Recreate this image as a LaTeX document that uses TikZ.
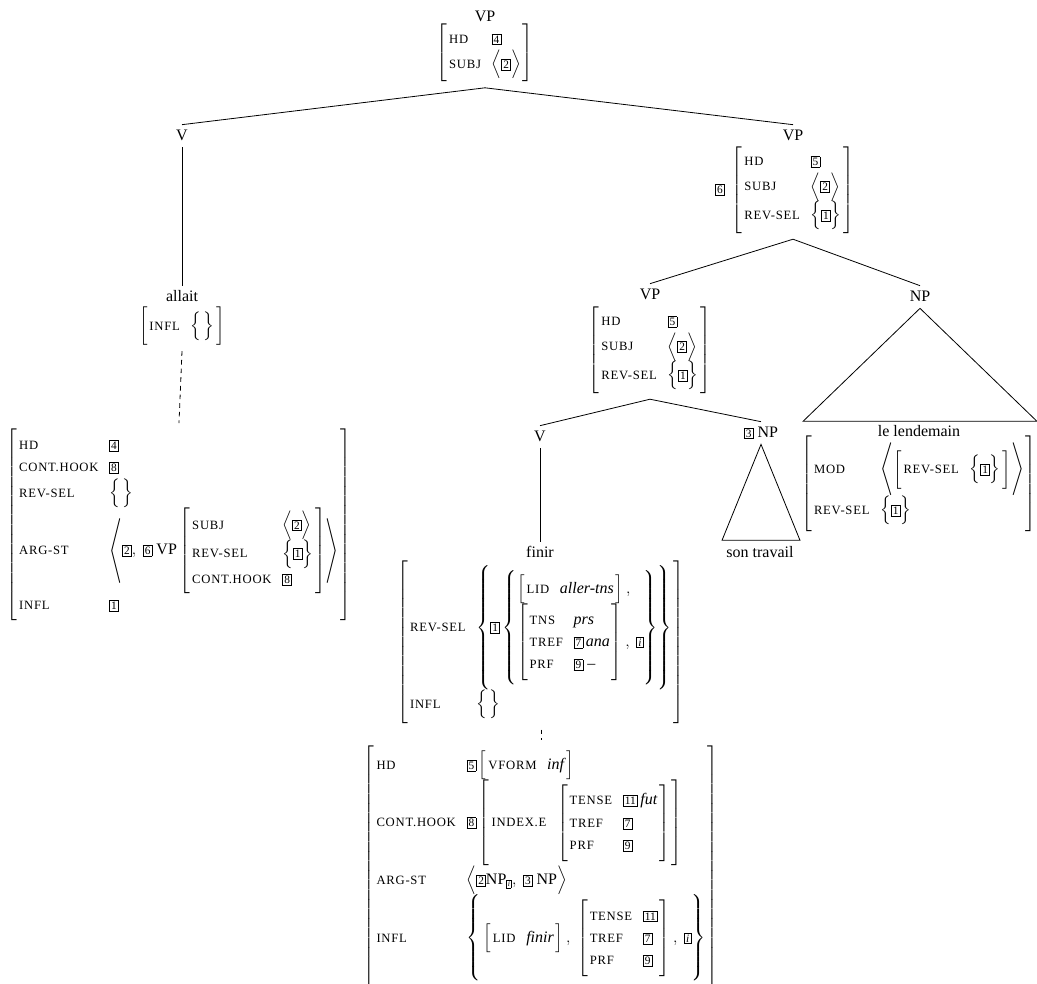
\documentclass[tikz,border=0pt]{standalone}
\usepackage{amsmath}
\usepackage{graphicx}
\usepackage{fontspec}
\setmainfont{Liberation Serif}
\newfontfamily\featfont[LetterSpace=6]{Liberation Serif}
\usetikzlibrary{positioning}

\delimitershortfall=-4pt
\renewcommand{\arraystretch}{1.2}

% boxed tags
\newcommand{\tg}[1]{{\setlength{\fboxsep}{1pt}\setlength{\fboxrule}{0.5pt}%
  \fbox{\fontsize{8.5}{8.5}\selectfont\rule{0pt}{5.5pt}#1}}}
\newcommand{\stg}[1]{{\setlength{\fboxsep}{0.6pt}\setlength{\fboxrule}{0.4pt}%
  \fbox{\fontsize{6}{6}\selectfont\rule{0pt}{4.2pt}#1}}}
% feature names and values
\newcommand{\ft}[1]{\text{\featfont\fontsize{9.5}{11}\selectfont #1}}
\newcommand{\valit}[1]{\text{\itshape #1}}
% matrices, lists and sets
\newcommand{\dstrut}{\rule[-3.5pt]{0pt}{9.5pt}}
\newcommand{\avm}[1]{\left[\begin{array}{@{\hspace{1.5pt}}l@{\hspace{8pt}}l@{\hspace{1.5pt}}}#1\end{array}\right]}
\newcommand{\lstof}[1]{\left\langle\dstrut#1\right\rangle}
\newcommand{\setof}[1]{\left\{\dstrut#1\right\}}
\newcommand{\eset}{\left\{\dstrut\,\right\}}
\newcommand{\tlang}[1]{\mathopen{\vcenter{\hbox{\scalebox{1}[#1]{$\Biggl\langle$}}}}}
\newcommand{\trang}[1]{\mathclose{\vcenter{\hbox{\scalebox{1}[#1]{$\Biggr\rangle$}}}}}

\begin{document}
\begin{tikzpicture}[x=0.75pt,y=-0.75pt,
    every node/.style={font=\fontsize{12}{14}\selectfont},
    cat/.style={inner sep=0pt,outer sep=3pt,text height=8.5pt,text depth=2.5pt},
    avmbox/.style={inner sep=0pt,outer sep=4.5pt},
    branch/.style={line width=0.6pt},
    dotbranch/.style={line width=0.6pt,dash pattern=on 3.5pt off 3pt}]
  \useasboundingbox (0,0) rectangle (1037,983);

  % root
  \node[cat] (vpTop) at (485,17) {VP};
  \node[avmbox] (avmTop) at (485,53) {$\avm{\ft{HD} & \tg{4}\\ \ft{SUBJ} & \lstof{\tg{2}}}$};

  % auxiliary verb
  \node[cat] (vL) at (182,136) {V};
  \node[cat] (allait) at (182,297) {allait};
  \node[avmbox] (avmAl) at (182,326) {$\avm{\ft{INFL} & \eset}$};
  \node[avmbox] (avmL) at (179,525) {$\avm{
      \ft{HD} & \tg{4}\\
      \ft{CONT.HOOK} & \tg{8}\\
      \ft{REV-SEL} & \eset\\
      \ft{ARG-ST} & \tlang{1.35}\tg{2},\ \tg{6}\ \text{VP}\avm{
          \ft{SUBJ} & \lstof{\tg{2}}\\
          \ft{REV-SEL} & \setof{\tg{1}}\\
          \ft{CONT.HOOK} & \tg{8}}\trang{1.35}\\
      \ft{INFL} & \tg{1}}$};

  % complement VP
  \node[cat] (vpR) at (793,136) {VP};
  \node[avmbox] (avmR) at (793,190) {$\avm{\ft{HD} & \tg{5}\\ \ft{SUBJ} & \lstof{\tg{2}}\\ \ft{REV-SEL} & \setof{\tg{1}}}$};
  \node[inner sep=0pt,left=0.5pt of avmR] (tagR) {\tg{6}};

  \node[cat] (vpM) at (650,295) {VP};
  \node[avmbox] (avmM) at (650,350) {$\avm{\ft{HD} & \tg{5}\\ \ft{SUBJ} & \lstof{\tg{2}}\\ \ft{REV-SEL} & \setof{\tg{1}}}$};

  % adjunct NP
  \node[cat] (npR) at (920,297) {NP};
  \node[cat] (lend) at (919,432) {le lendemain};
  \node[avmbox] (avmN) at (919,484) {$\avm{
      \ft{MOD} & \tlang{1.1}\avm{\ft{REV-SEL} & \setof{\tg{1}}}\trang{1.1}\\
      \ft{REV-SEL} & \setof{\tg{1}}}$};

  % main verb
  \node[cat] (vM) at (540,437) {V};
  \node[cat] (finir) at (540,553) {finir};
  \node[avmbox] (avmF) at (541,642) {$\avm{
      \ft{REV-SEL} & \setof{\tg{1}\setof{\begin{array}{@{}l@{}}
          \avm{\ft{LID} & \valit{aller-tns}},\\
          \avm{\ft{TNS} & \valit{prs}\\ \ft{TREF} & \tg{7}\,\valit{ana}\\ \ft{PRF} & \tg{9}\ \text{--}},\ \tg{\textit{i}}
        \end{array}}}\\
      \ft{INFL} & \eset}$};
  \node[avmbox] (avmB) at (541,866) {$\avm{
      \ft{HD} & \tg{5}\avm{\ft{VFORM} & \valit{inf}}\\
      \ft{CONT.HOOK} & \tg{8}\avm{\ft{INDEX.E} & \avm{\ft{TENSE} & \tg{11}\,\valit{fut}\\ \ft{TREF} & \tg{7}\\ \ft{PRF} & \tg{9}}}\\
      \ft{ARG-ST} & \lstof{\tg{2}\text{NP}_{\stg{\textit{i}}},\ \tg{3}\ \text{NP}}\\
      \ft{INFL} & \setof{\avm{\ft{LID} & \valit{finir}},\ \avm{\ft{TENSE} & \tg{11}\\ \ft{TREF} & \tg{7}\\ \ft{PRF} & \tg{9}},\ \tg{\textit{i}}}}$};

  % object NP
  \node[cat] (npM) at (761,433) {\tg{3} NP};
  \node[cat] (sonT) at (760,553) {son travail};

  \draw[branch] (avmTop.south) -- (vL.north);
  \draw[branch] (avmTop.south) -- (vpR.north);
  \draw[branch] (vL.south) -- (allait.north);
  \draw[dotbranch] (avmAl.south) -- (avmL.north);
  \draw[branch] (avmR.south) -- (vpM.north);
  \draw[branch] (avmR.south) -- (npR.north);
  \draw[branch] (avmM.south) -- (vM.north);
  \draw[branch] (avmM.south) -- (npM.north);
  \draw[branch] (vM.south) -- (finir.north);
  \draw[dotbranch] (avmF.south) -- (avmB.north);
  \draw[branch] (npR.south) -- ++(-117,113) -- ++(234,0) -- cycle;
  \draw[branch] (npM.south) -- ++(-39,96) -- ++(78,0) -- cycle;
\end{tikzpicture}
\end{document}
